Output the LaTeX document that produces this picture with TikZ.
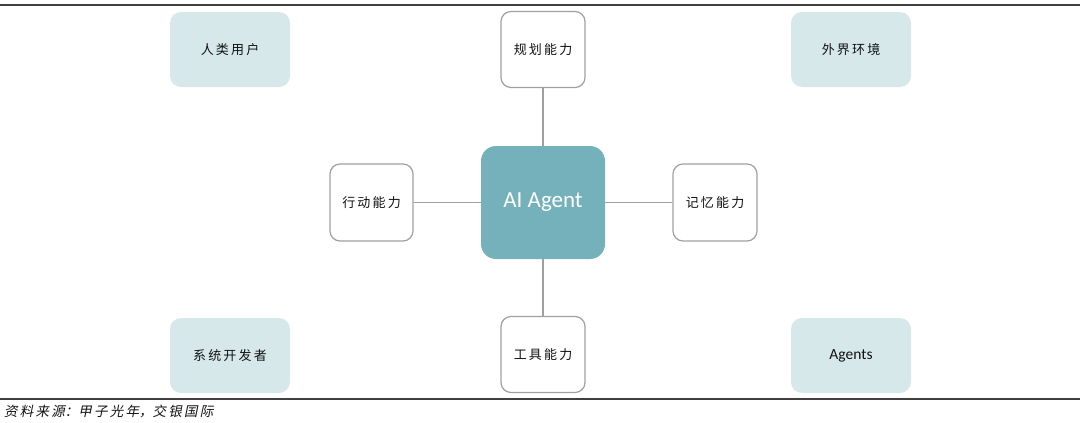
\documentclass[tikz,border=0pt]{standalone}
\usepackage{fontspec}
\setmainfont{Carlito}
\newfontfamily\cjk{Noto Sans CJK SC}
\newfontfamily\cjkit[FakeSlant=0.2]{Noto Sans CJK SC}
\definecolor{lightbox}{HTML}{D7E8EB}
\definecolor{agentfill}{HTML}{74B1BA}
\definecolor{edgegray}{HTML}{A0A0A0}
\definecolor{txt}{HTML}{111111}
\begin{document}
\begin{tikzpicture}[x=1pt,y=-1pt,
  lightnode/.style={fill=lightbox, draw=none, rounded corners=11pt, minimum width=120pt, minimum height=75pt, inner sep=0pt, text=txt, font=\cjk\fontsize{13}{15}\selectfont},
  abilitynode/.style={fill=white, draw=edgegray, line width=1.2pt, rounded corners=10pt, minimum width=84pt, minimum height=76pt, inner sep=0pt, text=txt, font=\cjk\fontsize{13}{15}\selectfont},
  corenode/.style={fill=agentfill, draw=none, rounded corners=15pt, minimum width=124pt, minimum height=113pt, inner sep=0pt, text=white, font=\fontsize{23}{26}\selectfont},
  link/.style={draw=edgegray, line width=1.8pt},
  rule/.style={draw=black!75, line width=1.3pt}
]
\useasboundingbox (0,0) rectangle (1080,423);
\coordinate (tl) at (0,5);
\coordinate (tr) at (1080,5);
\coordinate (bl) at (0,399);
\coordinate (br) at (1080,399);
\draw[rule] (tl) -- (tr);
\draw[rule] (bl) -- (br);

\node[lightnode] (human) at (230,49.5) {人\,类\,用\,户};
\node[lightnode] (env) at (851,49.5) {外\,界\,环\,境};
\node[lightnode] (dev) at (230,355.5) {系\,统\,开\,发\,者};
\node[lightnode, font=\fontsize{15.5}{18}\selectfont] (agents) at (851,355.5) {Agents};

\node[corenode] (core) at (543,202.5) {AI Agent};

\node[abilitynode] (plan) at (543,49.5) {规\,划\,能\,力};
\node[abilitynode] (tool) at (543,354.5) {工\,具\,能\,力};
\node[abilitynode, minimum width=83pt, minimum height=77pt] (act) at (371.5,202.5) {行\,动\,能\,力};
\node[abilitynode, minimum width=84pt, minimum height=77pt] (mem) at (715,202.5) {记\,忆\,能\,力};

\draw[link] (plan) -- (core);
\draw[link] (core) -- (tool);
\draw[link] (act) -- (core);
\draw[link] (core) -- (mem);

\node[anchor=west, inner sep=0pt, text=txt, font=\cjkit\fontsize{13.5}{15}\selectfont] (src) at (4,411) {资\,料\,来\,源：甲\,子\,光\,年，交\,银\,国\,际};
\end{tikzpicture}
\end{document}
